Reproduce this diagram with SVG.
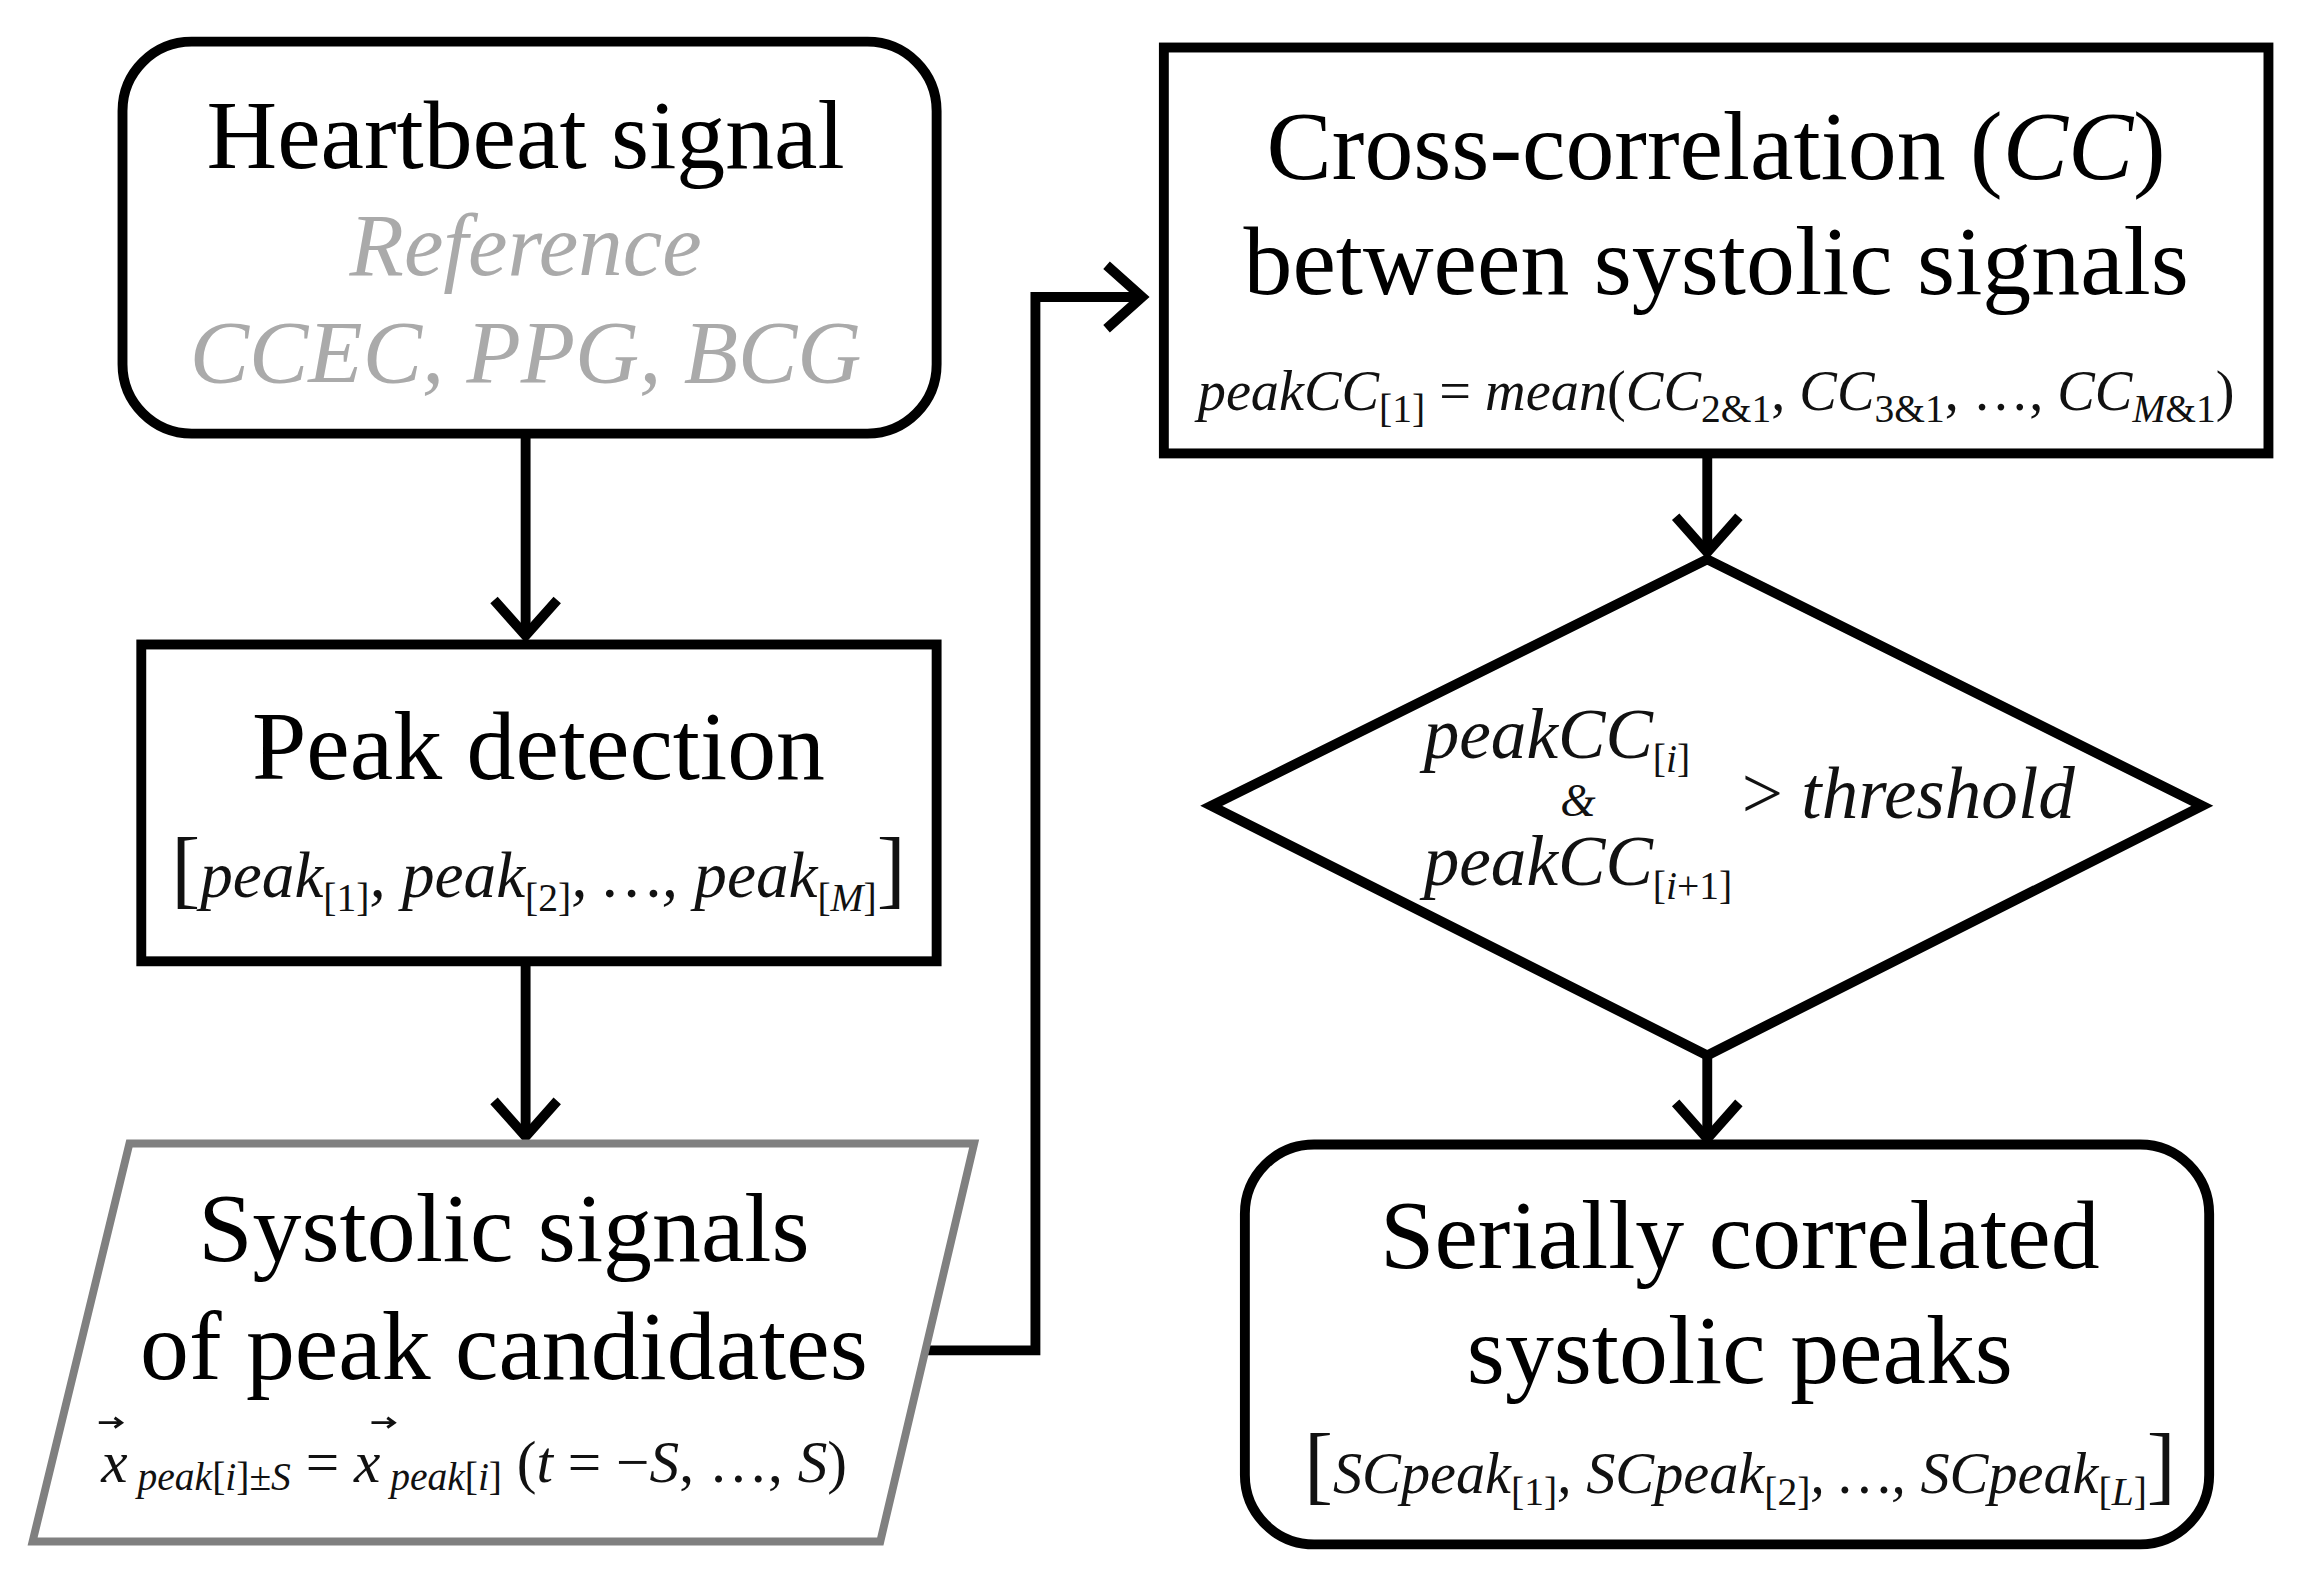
<svg xmlns="http://www.w3.org/2000/svg" width="2306" height="1588" viewBox="0 0 2306 1588">
<style>
.t{font-family:"Liberation Serif",serif;font-size:99px;fill:#000;text-anchor:middle}
.g{font-family:"Liberation Serif",serif;font-size:90px;fill:#aaa;font-style:italic;text-anchor:middle}
.f{font-family:"Liberation Serif",serif;font-size:66px;fill:#111;font-style:italic;text-anchor:middle}
.s{font-size:40px;font-style:normal}
.si{font-size:40px}
.n{font-style:normal}
.b{font-size:88px;font-style:normal}
.box{fill:#fff;stroke:#000;stroke-width:10}
.c{fill:none;stroke:#000;stroke-width:10}
.v{fill:none;stroke:#111;stroke-width:3}
</style>
<g transform="scale(0.988,0.99)">
<g id="connectors">
<path class="c" d="M532,440 V642"/><path class="c" d="M500,606 L532,642 L564,606"/>
<path class="c" d="M532,971 V1148"/><path class="c" d="M500,1112 L532,1148 L564,1112"/>
<path class="c" d="M930,1364 H1048 V300 H1156"/><path class="c" d="M1120,268 L1156,300 L1120,332"/>
<path class="c" d="M1728,458 V558"/><path class="c" d="M1696,522 L1728,558 L1760,522"/>
<path class="c" d="M1728,1066 V1150"/><path class="c" d="M1696,1114 L1728,1150 L1760,1114"/>
</g>
<g id="heartbeat">
<rect class="box" x="124" y="42" width="824" height="396" rx="70"/>
<text class="t" x="532" y="170">Heartbeat signal</text>
<text class="g" x="532" y="278">Reference</text>
<text class="g" x="532" y="386">CCEC, PPG, BCG</text>
</g>
<g id="peakdetection">
<rect class="box" x="143" y="651" width="805" height="320"/>
<text class="t" x="545" y="787">Peak detection</text>
<text class="f" x="545" y="906"><tspan class="b">[</tspan>peak<tspan class="s" dy="14">[1]</tspan><tspan dy="-14">, peak</tspan><tspan class="s" dy="14">[2]</tspan><tspan dy="-14">, …, peak</tspan><tspan class="s" dy="14">[<tspan font-style="italic">M</tspan>]</tspan><tspan class="b" dy="-14">]</tspan></text>
</g>
<g id="systolic">
<polygon points="131,1155 986,1155 891,1557 33,1557" fill="#fff" stroke="#808080" stroke-width="8"/>
<text class="t" x="510" y="1274">Systolic signals</text>
<text class="t" x="510" y="1393">of peak candidates</text>
<text class="f" x="480" y="1497" style="font-size:60px">x<tspan class="si" dy="8"> peak</tspan><tspan class="s">[<tspan font-style="italic">i</tspan>]±<tspan font-style="italic">S</tspan></tspan><tspan dy="-8" class="n"> = </tspan>x<tspan class="si" dy="8"> peak</tspan><tspan class="s">[<tspan font-style="italic">i</tspan>]</tspan><tspan dy="-8" class="n"> (</tspan>t<tspan class="n"> = −</tspan>S<tspan class="n">, …, </tspan>S<tspan class="n">)</tspan></text>
<path class="v" d="M100,1437 H122 M116,1432 L123,1437 L116,1442"/>
<path class="v" d="M376,1437 H398 M392,1432 L399,1437 L392,1442"/>
</g>
<g id="crosscorr">
<rect class="box" x="1178" y="48" width="1118" height="410"/>
<text class="t" x="1737" y="181">Cross-correlation (<tspan font-style="italic">CC</tspan>)</text>
<text class="t" x="1737" y="297">between systolic signals</text>
<text class="f" x="1737" y="414" style="font-size:57px">peakCC<tspan class="s" dy="12">[1]</tspan><tspan dy="-12" class="n"> = </tspan>mean<tspan class="n">(</tspan>CC<tspan class="s" dy="12">2&amp;1</tspan><tspan dy="-12" class="n">, </tspan>CC<tspan class="s" dy="12">3&amp;1</tspan><tspan dy="-12" class="n">, …, </tspan>CC<tspan class="si" dy="12">M</tspan><tspan class="s">&amp;1</tspan><tspan dy="-12" class="n">)</tspan></text>
</g>
<g id="decision">
<polygon points="1728,565 2229,814 1728,1066 1226,814" class="box"/>
<text class="f" x="1441" y="766" style="text-anchor:start;font-size:72px">peakCC<tspan class="s" dy="14">[<tspan font-style="italic">i</tspan>]</tspan></text>
<text class="f" x="1597" y="824" style="font-size:46px">&amp;</text>
<text class="f" x="1441" y="894" style="text-anchor:start;font-size:72px">peakCC<tspan class="s" dy="14">[<tspan font-style="italic">i</tspan>+1]</tspan></text>
<text class="f" x="1763" y="826" style="text-anchor:start;font-size:74px"><tspan class="n">&gt; </tspan>threshold</text>
</g>
<g id="serial">
<rect class="box" x="1260" y="1156" width="976" height="404" rx="70"/>
<text class="t" x="1761" y="1281">Serially correlated</text>
<text class="t" x="1761" y="1397">systolic peaks</text>
<text class="f" x="1761" y="1508" style="font-size:59px"><tspan class="b">[</tspan>SCpeak<tspan class="s" dy="12">[1]</tspan><tspan dy="-12">, SCpeak</tspan><tspan class="s" dy="12">[2]</tspan><tspan dy="-12">, …, SCpeak</tspan><tspan class="s" dy="12">[<tspan font-style="italic">L</tspan>]</tspan><tspan class="b" dy="-12">]</tspan></text>
</g>
</g>
</svg>
